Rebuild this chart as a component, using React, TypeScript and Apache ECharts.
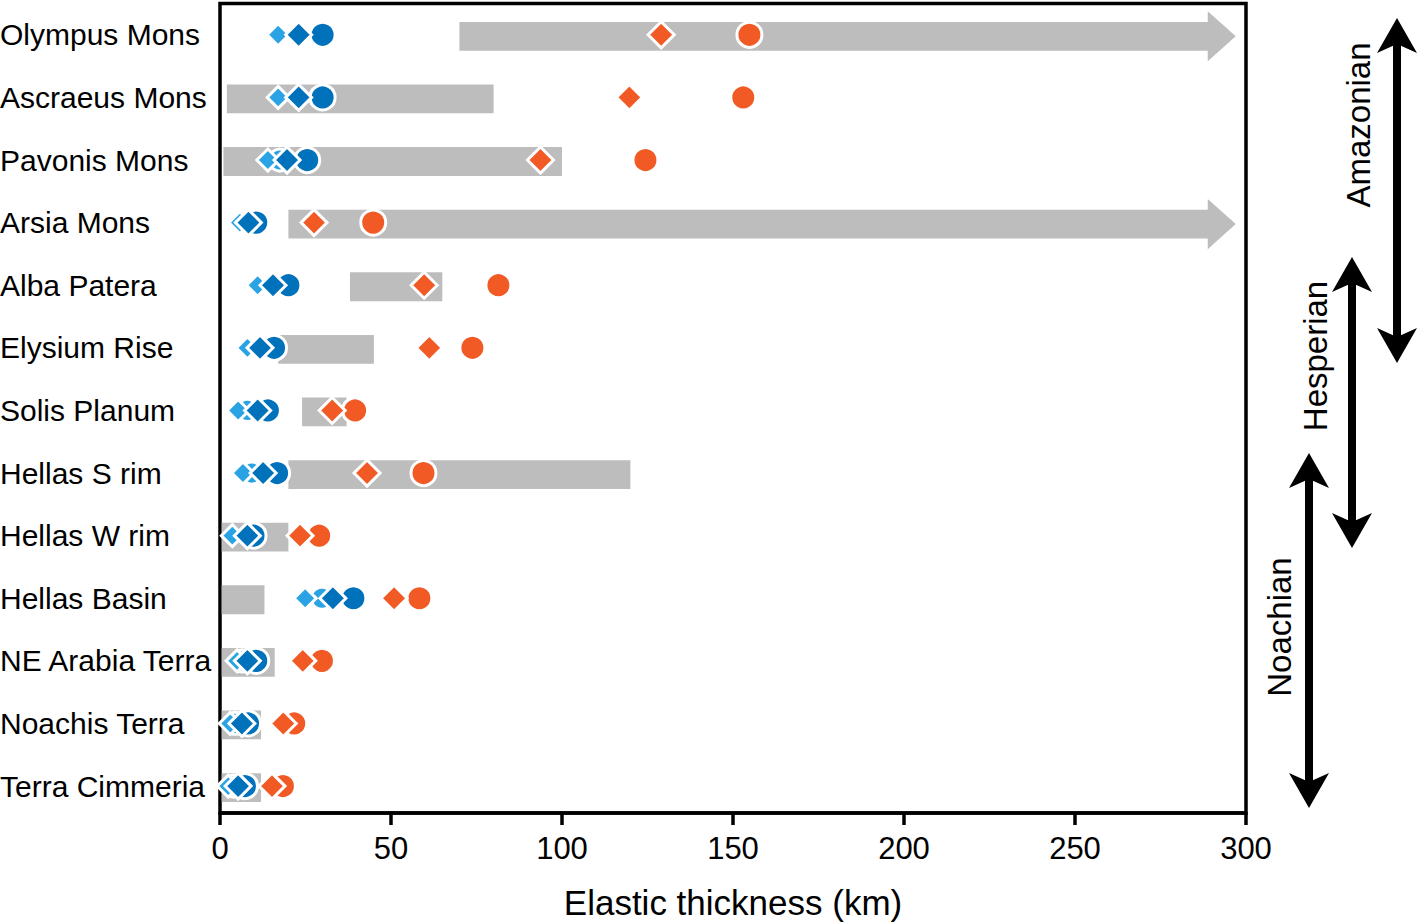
import React, { useEffect, useRef } from "react";
import * as echarts from "echarts";

const categories = [
  "Olympus Mons",
  "Ascraeus Mons",
  "Pavonis Mons",
  "Arsia Mons",
  "Alba Patera",
  "Elysium Rise",
  "Solis Planum",
  "Hellas S rim",
  "Hellas W rim",
  "Hellas Basin",
  "NE Arabia Terra",
  "Noachis Terra",
  "Terra Cimmeria",
];

// grey range bars (km); openEnded rows are drawn as arrows past the axis end
const rangeMin = [70, 2, 1, 20, 38, 17, 24, 20, 0.5, 0.5, 0.5, 0.5, 0.5];
const rangeMax = [297, 80, 100, 297, 65, 45, 37, 120, 20, 13, 16, 12, 12];
const openEnded = [true, false, false, true, false, false, false, false, false, false, false, false, false];

const lightDiamond = [17, 17, 14, 5.8, 11, 8, 5.3, 6.7, 3.6, 24.9, 5, 3, 2.4];
const lightCircle = [29.5, 29.5, 17.5, 10, 19, 15, 8, 9.3, 9.5, 29.8, 6.5, 4.5, 4];
const darkDiamond = [23, 23, 19.6, 8.3, 15.5, 11.7, 11, 12.6, 8, 33, 8, 6.4, 5.3];
const darkCircle = [30, 30, 25.5, 10.6, 20, 15.8, 14, 16.7, 9.8, 39, 10.6, 8.2, 7.3];
const orangeDiamond = [129, 119.7, 93.7, 27.5, 59.7, 61.2, 32.8, 43, 23.4, 50.9, 24.2, 18.5, 15.2];
const orangeCircle = [154.8, 153, 124.4, 44.8, 81.4, 73.8, 39.5, 59.5, 29, 58.3, 29.8, 21.7, 18.4];

const xTicks = { min: 0, max: 300, interval: 50 };

const periods = [
  { name: "Amazonian", x: 1397, top: 18, bottom: 363, lx: 1358, ly: 125 },
  { name: "Hesperian", x: 1352, top: 257, bottom: 548, lx: 1315, ly: 356 },
  { name: "Noachian", x: 1309, top: 453, bottom: 808, lx: 1279, ly: 627 },
];

const FONT = "'Liberation Sans', Arial, Helvetica, sans-serif";
const LIGHT = "#29a3e3";
const DARK = "#0071bb";
const ORANGE = "#f15a24";
const GREY = "#bdbdbd";

function doubleArrow(p: { name: string; x: number; top: number; bottom: number; lx: number; ly: number }) {
  const hw = 20; // half head width
  const hl = 35; // head length
  const notch = 26;
  const sw = 4; // half shaft width
  return [
    {
      type: "rect",
      shape: { x: p.x - sw, y: p.top + notch - 2, width: sw * 2, height: p.bottom - p.top - 2 * notch + 4 },
      style: { fill: "#000" },
    },
    {
      type: "polygon",
      shape: {
        points: [
          [p.x, p.top],
          [p.x + hw, p.top + hl],
          [p.x, p.top + notch],
          [p.x - hw, p.top + hl],
        ],
      },
      style: { fill: "#000" },
    },
    {
      type: "polygon",
      shape: {
        points: [
          [p.x, p.bottom],
          [p.x + hw, p.bottom - hl],
          [p.x, p.bottom - notch],
          [p.x - hw, p.bottom - hl],
        ],
      },
      style: { fill: "#000" },
    },
    {
      type: "text",
      x: p.lx,
      y: p.ly,
      rotation: Math.PI / 2,
      style: {
        text: p.name,
        fontSize: 33,
        fontFamily: FONT,
        fill: "#000",
        align: "center",
        verticalAlign: "middle",
      },
    },
  ];
}

function scatter(name: string, values: number[], symbol: string, size: number, color: string) {
  return {
    name,
    type: "scatter",
    symbol,
    symbolSize: size,
    itemStyle: { color, borderColor: "#fff", borderWidth: 3, opacity: 1 },
    data: values.map((v, i) => [v, i]),
    z: 3,
  };
}

export default function App() {
  const ref = useRef<HTMLDivElement>(null);
  useEffect(() => {
    if (!ref.current) return;
    const chart = echarts.init(ref.current, undefined, { renderer: "svg" });
    const barData = categories.map((_, i) => [i, rangeMin[i], rangeMax[i], openEnded[i] ? 1 : 0]);
    const rowIdx = categories.map((_, i) => i);
    chart.setOption({
      animation: false,
      backgroundColor: "#fff",
      textStyle: { fontFamily: FONT },
      grid: {
        left: 220,
        right: 171,
        top: 3.5,
        bottom: 110,
        show: true,
        borderColor: "#000",
        borderWidth: 3.5,
        backgroundColor: "transparent",
        containLabel: false,
        outerBoundsMode: "none",
      },
      xAxis: {
        type: "value",
        min: xTicks.min,
        max: xTicks.max,
        interval: xTicks.interval,
        splitLine: { show: false },
        axisLine: { show: true, onZero: false, lineStyle: { color: "#000", width: 3.5 } },
        axisTick: { show: true, length: 12, lineStyle: { color: "#000", width: 3.5 } },
        axisLabel: { fontSize: 31, color: "#000", margin: 20, fontFamily: FONT },
        name: "Elastic thickness (km)",
        nameLocation: "middle",
        nameGap: 72,
        nameTextStyle: { fontSize: 35, color: "#000", fontFamily: FONT },
      },
      yAxis: {
        type: "value",
        min: -0.5,
        max: 12.43,
        inverse: true,
        axisLine: { show: false, onZero: false },
        axisTick: { show: false },
        splitLine: { show: false },
        axisLabel: {
          customValues: rowIdx,
          formatter: (v: number) => categories[Math.round(v)] ?? "",
          align: "left",
          margin: 220,
          fontSize: 30,
          color: "#000",
          fontFamily: FONT,
        },
      },
      series: [
        {
          type: "custom",
          name: "range",
          data: barData,
          encode: { x: [1, 2], y: 0 },
          z: 1,
          renderItem: (params: any, api: any) => {
            const cat = api.value(0);
            const p0 = api.coord([api.value(1), cat]);
            const p1 = api.coord([api.value(2), cat]);
            const band = api.size([0, 1])[1];
            const h = band * 0.46;
            const H = band * 0.8;
            const cy = p0[1] + 1.5;
            if (!api.value(3)) {
              return {
                type: "rect",
                shape: { x: p0[0], y: cy - h / 2, width: p1[0] - p0[0], height: h },
                style: { fill: GREY },
              };
            }
            const head = 28;
            return {
              type: "polygon",
              shape: {
                points: [
                  [p0[0], cy - h / 2],
                  [p1[0] - head, cy - h / 2],
                  [p1[0] - head, cy - H / 2],
                  [p1[0], cy],
                  [p1[0] - head, cy + H / 2],
                  [p1[0] - head, cy + h / 2],
                  [p0[0], cy + h / 2],
                ],
              },
              style: { fill: GREY },
            };
          },
        },
        scatter("light circle", lightCircle, "circle", 22, LIGHT),
        scatter("dark circle", darkCircle, "circle", 25, DARK),
        scatter("orange circle", orangeCircle, "circle", 25, ORANGE),
        scatter("light diamond", lightDiamond, "diamond", 22, LIGHT),
        scatter("dark diamond", darkDiamond, "diamond", 26, DARK),
        scatter("orange diamond", orangeDiamond, "diamond", 26, ORANGE),
      ],
      graphic: { elements: periods.flatMap((p) => doubleArrow(p)) },
    });
    return () => chart.dispose();
  }, []);
  return (
    <div
      ref={ref}
      style={{ position: "absolute", left: 0, top: 0, width: 1417, height: 923, background: "#fff" }}
    />
  );
}
